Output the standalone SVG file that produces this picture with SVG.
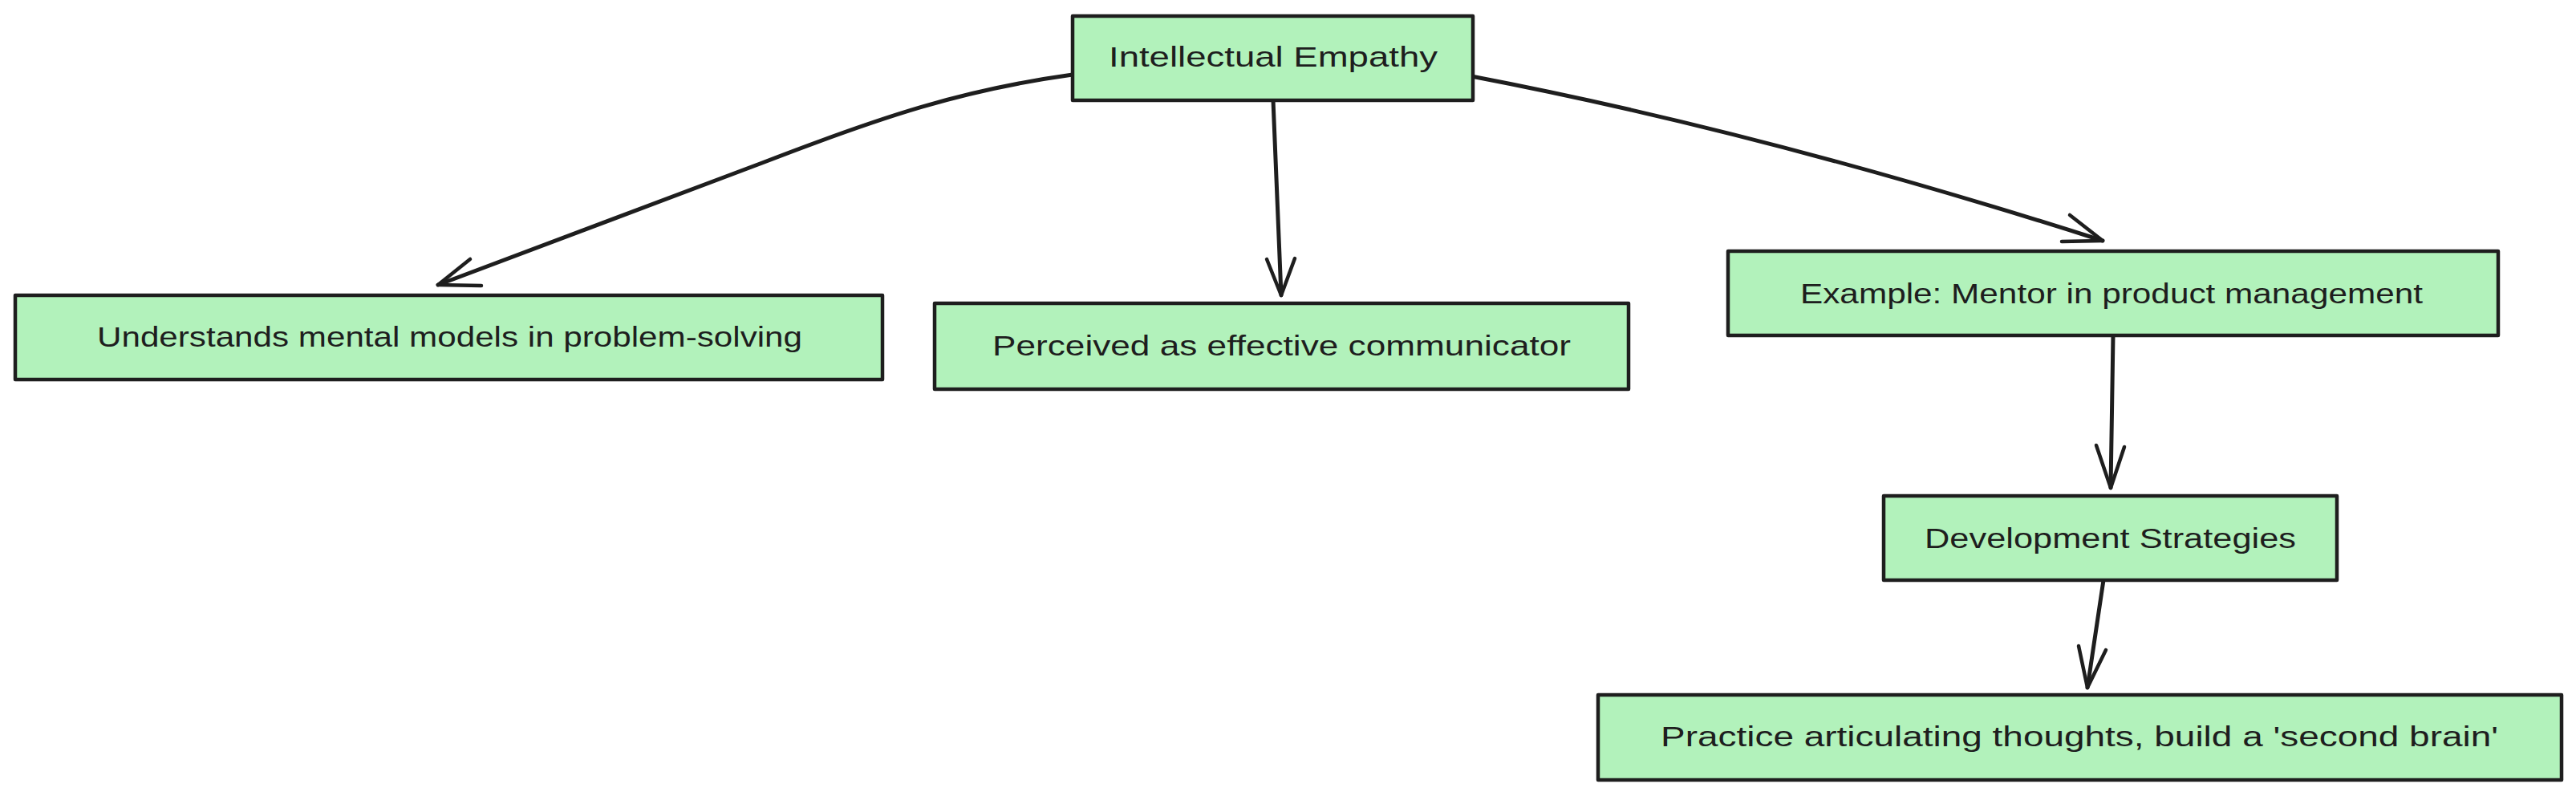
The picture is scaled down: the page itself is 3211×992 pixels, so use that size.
<svg xmlns="http://www.w3.org/2000/svg" width="3211" height="992" viewBox="0 0 3211 992">
<style>
.box{fill:#b2f2bb;stroke:#1e1e1e;stroke-width:4.5;stroke-linejoin:round}
.lbl{font-family:"Liberation Sans",Arial,sans-serif;font-size:35px;fill:#1e1e1e}
.edge{fill:none;stroke:#1e1e1e;stroke-width:5;stroke-linecap:round;stroke-linejoin:round}
.head{fill:none;stroke:#1e1e1e;stroke-width:4.5;stroke-linecap:round;stroke-linejoin:round}
</style>
<rect width="3211" height="992" fill="#ffffff"/>
<g id="connectors">
<path class="edge" d="M1337,93 C1200,112 1100,145 950,203 L546,355"/>
<path class="head" d="M586,323 L546,355 L600,356"/>
<path class="edge" d="M1587,125 L1597,368"/>
<path class="head" d="M1579,323 L1597,368 L1614,322"/>
<path class="edge" d="M1834,95 Q2200,165 2621,300"/>
<path class="head" d="M2580,268 L2621,300 L2570,301"/>
<path class="edge" d="M2634,418 L2631,608"/>
<path class="head" d="M2613,555 L2631,608 L2648,557"/>
<path class="edge" d="M2622,723 L2602,857"/>
<path class="head" d="M2591,805 L2602,857 L2625,810"/>
</g>
<g id="node-intellectual-empathy">
<rect class="box" x="1337" y="20" width="499" height="105"/>
<text class="lbl" x="1382" y="83" textLength="410" lengthAdjust="spacingAndGlyphs">Intellectual Empathy</text>
</g>
<g id="node-understands">
<rect class="box" x="19" y="368" width="1081" height="105"/>
<text class="lbl" x="121" y="432" textLength="879" lengthAdjust="spacingAndGlyphs">Understands mental models in problem-solving</text>
</g>
<g id="node-perceived">
<rect class="box" x="1165" y="378" width="865" height="107"/>
<text class="lbl" x="1237" y="443" textLength="721" lengthAdjust="spacingAndGlyphs">Perceived as effective communicator</text>
</g>
<g id="node-example">
<rect class="box" x="2154" y="313" width="960" height="105"/>
<text class="lbl" x="2244" y="378" textLength="776" lengthAdjust="spacingAndGlyphs">Example: Mentor in product management</text>
</g>
<g id="node-development">
<rect class="box" x="2348" y="618" width="565" height="105"/>
<text class="lbl" x="2399" y="683" textLength="463" lengthAdjust="spacingAndGlyphs">Development Strategies</text>
</g>
<g id="node-practice">
<rect class="box" x="1992" y="866" width="1201" height="106"/>
<text class="lbl" x="2070" y="930" textLength="1044" lengthAdjust="spacingAndGlyphs">Practice articulating thoughts, build a 'second brain'</text>
</g>
</svg>
